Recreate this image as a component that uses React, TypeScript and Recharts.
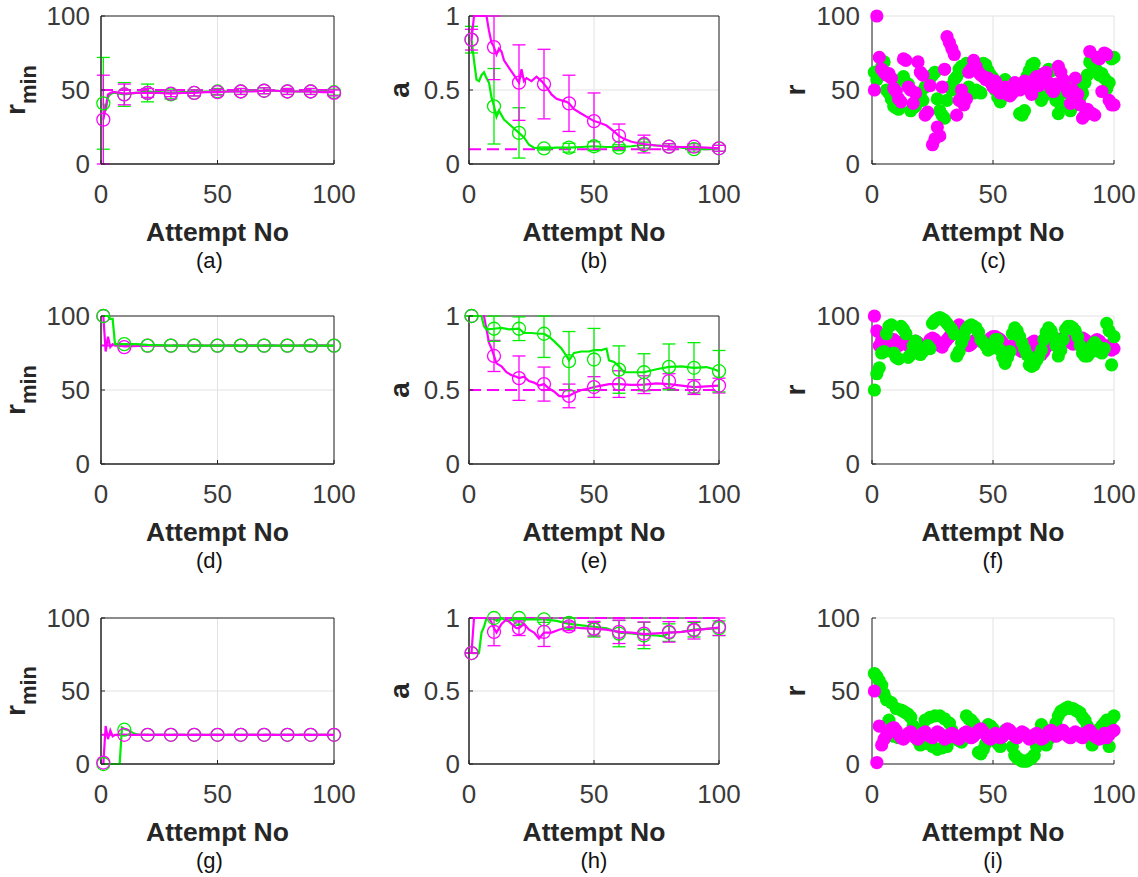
import React from 'react';
import {
  ComposedChart, Line, Scatter, XAxis, YAxis, CartesianGrid, ErrorBar, ReferenceLine, ReferenceArea,
} from 'recharts';

const GREEN = '#00ee00';
const MAGENTA = '#ff00ff';
const INK = '#262626';
const TICK = '#3a3a3a';
const FONT = "'Liberation Sans', Arial, Helvetica, sans-serif";

const xTicks = [0, 50, 100];
const rTicks = [0, 50, 100];
const aTicks = [0, 0.5, 1];
const markerX = [1, 10, 20, 30, 40, 50, 60, 70, 80, 90, 100];
const attempts = Array.from({ length: 100 }, (_, i) => i + 1);

// ---------- (a) r_min, target 50 ----------
const aGreenLineX = [1, 2, 3, 4, 5, 6, 8, 10, 15, 20, 25, 30, 35, 40, 45, 50, 55, 60, 65, 70, 75, 80, 85, 90, 95, 100];
const aGreenLineY = [41, 36, 45, 47, 48, 48, 47.5, 47, 48, 49, 48.5, 48, 48.5, 48.5, 49, 49, 49, 49, 49.5, 49.5, 49.5, 49, 49, 49, 49, 48.5];
const aMagLineX = [1, 2, 3, 4, 5, 6, 8, 10, 15, 20, 25, 30, 35, 40, 45, 50, 55, 60, 65, 70, 75, 80, 85, 90, 95, 100];
const aMagLineY = [30, 38, 47, 48, 48.5, 48.5, 48, 47.5, 48, 48, 48, 47.5, 48, 48, 48.5, 48.5, 49, 49, 49, 49.5, 49.5, 49, 49, 49, 48.5, 48.5];
const aGreenMk = [41, 47, 48, 47, 48, 49, 49, 49.5, 49, 49, 48.5];
const aGreenErr = [31, 8, 6, 3, 2, 2, 2, 2, 2, 2, 2];
const aMagMk = [30, 47, 48, 47.5, 48, 48.5, 49, 49.5, 49, 49, 48];
const aMagErr = [30, 7, 3, 2, 2, 2, 2, 2, 2, 2, 2];

// ---------- (b) a, target 0.1 ----------
const bMagLineX = [1, 2, 3, 4, 5, 6, 7, 8, 9, 10, 11, 12, 13, 14, 16, 18, 20, 21, 22, 23, 25, 27, 29, 30, 31, 33, 35, 37, 39, 40, 42, 45, 48, 50, 52, 55, 58, 60, 62, 65, 68, 70, 75, 80, 85, 90, 95, 100];
const bMagLineY = [0.84, 1, 1, 1, 1, 1, 1, 0.9, 0.82, 0.79, 0.74, 0.78, 0.76, 0.7, 0.65, 0.6, 0.55, 0.64, 0.56, 0.58, 0.56, 0.59, 0.56, 0.54, 0.52, 0.47, 0.44, 0.43, 0.42, 0.41, 0.37, 0.34, 0.31, 0.29, 0.28, 0.26, 0.22, 0.19, 0.17, 0.15, 0.14, 0.135, 0.125, 0.117, 0.115, 0.115, 0.11, 0.106];
const bGreenLineX = [1, 2, 3, 4, 5, 6, 7, 8, 9, 10, 11, 12, 13, 14, 16, 18, 20, 22, 24, 26, 28, 30, 35, 40, 45, 50, 55, 60, 65, 70, 75, 80, 85, 90, 95, 100];
const bGreenLineY = [0.84, 0.7, 0.57, 0.56, 0.6, 0.62, 0.58, 0.55, 0.45, 0.39, 0.32, 0.36, 0.33, 0.3, 0.27, 0.24, 0.21, 0.18, 0.13, 0.11, 0.105, 0.105, 0.11, 0.11, 0.115, 0.12, 0.115, 0.115, 0.12, 0.13, 0.125, 0.12, 0.11, 0.1, 0.1, 0.105];
const bMagMk = [0.84, 0.79, 0.55, 0.54, 0.41, 0.29, 0.19, 0.135, 0.117, 0.117, 0.106];
const bMagErr = [0.07, 0.22, 0.255, 0.235, 0.19, 0.19, 0.08, 0.06, 0.02, 0.02, 0.02];
const bGreenMk = [0.84, 0.39, 0.21, 0.105, 0.11, 0.12, 0.11, 0.128, 0.117, 0.1, 0.106];
const bGreenErr = [0.09, 0.255, 0.17, 0.01, 0.03, 0.03, 0.02, 0.02, 0.02, 0.02, 0.02];

// ---------- (c) r scatter ----------
const cGreen = [62, 57, 60, 66, 69, 50, 48, 44, 39, 38, 37, 57, 59, 55, 54, 36, 38, 39, 45, 48, 43, 52, 54, 58, 60, 62, 44, 36, 33, 31, 43, 52, 50, 57, 59, 64, 66, 63, 68, 52, 50, 48, 50, 49, 48, 68, 67, 63, 60, 58, 50, 45, 42, 53, 57, 55, 53, 52, 51, 52, 34, 33, 36, 59, 63, 67, 68, 61, 50, 43, 46, 54, 64, 63, 50, 43, 34, 40, 48, 53, 55, 36, 40, 46, 52, 45, 48, 55, 60, 69, 67, 66, 63, 60, 61, 58, 51, 55, 71, 72];
const cMagenta = [50, 100, 72, 64, 62, 60, 61, 58, 51, 49, 44, 42, 71, 70, 52, 50, 41, 48, 69, 62, 60, 33, 35, 53, 13, 17, 25, 19, 52, 64, 86, 82, 78, 74, 33, 43, 50, 40, 44, 62, 64, 70, 66, 62, 60, 59, 57, 58, 55, 52, 56, 50, 48, 49, 52, 47, 46, 48, 55, 53, 50, 52, 56, 54, 50, 47, 57, 59, 53, 58, 61, 62, 55, 51, 49, 54, 66, 62, 57, 52, 49, 41, 50, 58, 47, 40, 31, 33, 37, 76, 34, 33, 72, 71, 49, 75, 74, 43, 40, 40];

// ---------- (d) r_min, target 80 ----------
const dGreenLineX = [1, 2, 3, 4, 5, 6, 8, 10, 15, 20, 30, 40, 50, 60, 70, 80, 90, 100];
const dGreenLineY = [100, 100, 100, 98, 98, 81, 81, 81, 81, 80.5, 80, 80, 80, 80, 80, 80, 80, 80];
const dMagLineX = [1, 2, 3, 4, 5, 6, 8, 10, 20, 30, 40, 50, 60, 70, 80, 90, 100];
const dMagLineY = [100, 76, 86, 79, 81, 80, 80, 79.5, 80, 80, 80, 80, 80, 80, 80, 80, 80];
const dGreenMk = [100, 81, 80, 80, 80, 80, 80, 80, 80, 80, 80];
const dMagMk = [100, 79, 80, 80, 80, 80, 80, 80, 80, 80, 80];

// ---------- (e) a, target 0.5 ----------
const eGreenLineX = [1, 2, 3, 4, 5, 6, 7, 10, 13, 16, 20, 22, 25, 28, 30, 32, 34, 37, 39, 40, 42, 45, 48, 50, 53, 55, 56, 58, 60, 62, 65, 70, 75, 80, 85, 90, 95, 98, 100];
const eGreenLineY = [1, 1, 1, 1, 1, 0.93, 0.91, 0.914, 0.92, 0.91, 0.914, 0.885, 0.885, 0.88, 0.88, 0.86, 0.83, 0.78, 0.73, 0.7, 0.75, 0.76, 0.76, 0.77, 0.77, 0.78, 0.7, 0.69, 0.66, 0.62, 0.62, 0.62, 0.64, 0.656, 0.66, 0.65, 0.655, 0.64, 0.627];
const eMagLineX = [1, 2, 3, 4, 5, 6, 7, 8, 9, 10, 11, 13, 15, 17, 19, 20, 22, 24, 26, 28, 30, 32, 34, 36, 38, 40, 42, 45, 48, 50, 53, 56, 60, 65, 70, 75, 80, 85, 90, 95, 100];
const eMagLineY = [1, 1, 1, 1, 1, 1, 0.91, 0.82, 0.78, 0.73, 0.68, 0.66, 0.62, 0.6, 0.59, 0.58, 0.59, 0.56, 0.55, 0.53, 0.54, 0.51, 0.49, 0.46, 0.455, 0.46, 0.48, 0.5, 0.51, 0.52, 0.53, 0.54, 0.54, 0.535, 0.536, 0.545, 0.54, 0.53, 0.52, 0.525, 0.53];
const eGreenMk = [1, 0.914, 0.914, 0.88, 0.695, 0.706, 0.638, 0.62, 0.656, 0.65, 0.627];
const eGreenErr = [0, 0.085, 0.08, 0.16, 0.2, 0.21, 0.16, 0.125, 0.155, 0.17, 0.14];
const eMagMk = [1, 0.73, 0.58, 0.54, 0.46, 0.52, 0.54, 0.536, 0.56, 0.52, 0.53];
const eMagErr = [0, 0.105, 0.15, 0.115, 0.08, 0.07, 0.09, 0.06, 0.05, 0.05, 0.05];

// ---------- (f) r scatter ----------
const fGreen = [50, 61, 65, 75, 76, 88, 93, 94, 75, 72, 71, 93, 91, 88, 72, 74, 80, 83, 77, 74, 76, 78, 80, 78, 95, 97, 98, 99, 98, 97, 95, 93, 91, 88, 73, 76, 82, 86, 91, 93, 94, 93, 92, 89, 84, 82, 80, 77, 78, 81, 84, 84, 77, 72, 68, 72, 76, 88, 92, 90, 86, 82, 78, 74, 67, 66, 67, 70, 73, 77, 84, 89, 92, 90, 86, 80, 73, 77, 84, 91, 93, 93, 92, 90, 86, 80, 75, 73, 73, 75, 80, 82, 80, 76, 75, 78, 95, 90, 67, 86];
const fMagenta = [100, 90, 80, 84, 82, 80, 82, 83, 84, 82, 80, 82, 83, 82, 80, 79, 81, 83, 82, 80, 78, 79, 81, 84, 85, 84, 82, 80, 79, 82, 84, 86, 88, 90, 92, 94, 88, 85, 82, 80, 81, 83, 84, 84, 83, 82, 82, 83, 85, 86, 86, 85, 84, 82, 80, 79, 78, 80, 81, 79, 77, 76, 77, 78, 80, 82, 83, 80, 77, 74, 76, 79, 82, 83, 82, 81, 82, 84, 85, 84, 83, 82, 81, 82, 83, 84, 85, 84, 82, 80, 81, 83, 84, 83, 81, 80, 79, 80, 77, 78];

// ---------- (g) r_min, target 20 ----------
const gGreenLineX = [1, 2, 4, 6, 8, 9, 10, 12, 14, 16, 20, 30, 40, 50, 60, 70, 80, 90, 100];
const gGreenLineY = [0, 0, 0, 0, 0, 25, 24, 23, 21, 20, 20, 20, 20, 20, 20, 20, 20, 20, 20];
const gMagLineX = [1, 2, 3, 4, 5, 6, 8, 10, 20, 30, 40, 50, 60, 70, 80, 90, 100];
const gMagLineY = [0, 26, 17, 23, 19, 20, 20, 20, 20, 20, 20, 20, 20, 20, 20, 20, 20];
const gGreenMk = [0, 23.5, 20, 20, 20, 20, 20, 20, 20, 20, 20];
const gMagMk = [1, 20, 20, 20, 20, 20, 20, 20, 20, 20, 20];

// ---------- (h) a, target 1 ----------
const hGreenLineX = [1, 2, 3, 4, 5, 6, 7, 10, 11, 13, 15, 18, 25, 30, 35, 40, 45, 50, 55, 60, 65, 70, 75, 78, 80, 85, 90, 95, 100];
const hGreenLineY = [0.76, 0.76, 0.76, 0.76, 0.9, 0.94, 1, 1, 0.98, 1, 0.98, 0.99, 0.99, 0.99, 0.98, 0.96, 0.95, 0.94, 0.93, 0.9, 0.895, 0.885, 0.88, 0.875, 0.9, 0.905, 0.92, 0.925, 0.93];
const hMagLineX = [1, 2, 3, 5, 8, 9, 10, 11, 13, 15, 17, 19, 20, 22, 24, 26, 28, 30, 33, 36, 40, 45, 50, 55, 60, 65, 70, 75, 80, 85, 90, 95, 100];
const hMagLineY = [0.76, 1, 1, 1, 1, 0.97, 0.93, 0.9, 0.96, 0.99, 0.96, 0.93, 0.93, 0.96, 0.92, 0.9, 0.86, 0.9, 0.9, 0.92, 0.94, 0.93, 0.925, 0.92, 0.905, 0.9, 0.89, 0.895, 0.9, 0.905, 0.915, 0.925, 0.935];
const hGreenMk = [0.76, 1, 1, 0.99, 0.966, 0.92, 0.893, 0.88, 0.9, 0.92, 0.93];
const hGreenErr = [0, 0.01, 0.05, 0.02, 0.04, 0.05, 0.09, 0.09, 0.06, 0.05, 0.05];
const hMagMk = [0.76, 0.905, 0.93, 0.905, 0.943, 0.927, 0.905, 0.893, 0.905, 0.916, 0.94];
const hMagErr = [0, 0.095, 0.05, 0.1, 0.03, 0.05, 0.08, 0.08, 0.07, 0.06, 0.06];

// ---------- (i) r scatter ----------
const iGreen = [62, 60, 57, 54, 48, 44, 30, 42, 19, 38, 18, 37, 36, 35, 34, 32, 26, 19, 16, 13, 24, 30, 14, 32, 12, 33, 10, 33, 11, 31, 12, 28, 23, 19, 17, 16, 15, 18, 33, 31, 30, 28, 25, 8, 7, 10, 14, 27, 26, 24, 16, 14, 12, 19, 23, 22, 21, 12, 6, 4, 3, 2, 2, 2, 3, 4, 6, 12, 19, 27, 24, 13, 17, 19, 23, 28, 33, 36, 37, 38, 39, 38, 38, 37, 36, 35, 32, 30, 26, 20, 13, 19, 22, 24, 26, 28, 30, 12, 31, 33];
const iMagenta = [50, 1, 26, 13, 17, 20, 22, 24, 25, 23, 20, 18, 17, 19, 21, 22, 20, 18, 17, 19, 21, 22, 20, 19, 18, 20, 22, 21, 19, 17, 18, 20, 21, 20, 18, 17, 19, 21, 22, 20, 18, 19, 21, 23, 24, 22, 20, 18, 17, 19, 21, 20, 18, 19, 22, 24, 23, 21, 19, 18, 20, 22, 21, 19, 17, 18, 20, 21, 19, 17, 18, 20, 22, 23, 21, 19, 20, 22, 23, 21, 19, 18, 20, 22, 21, 19, 18, 20, 22, 23, 21, 19, 18, 17, 19, 21, 18, 20, 22, 23];

// ---------- helpers ----------
type Pt = { x: number; y: number; err?: [number, number] };
const pts = (xs: number[], ys: number[]): Pt[] => xs.map((x, i) => ({ x, y: ys[i] }));
const ptsErr = (xs: number[], ys: number[], errs: number[], top: number): Pt[] =>
  xs.map((x, i) => ({
    x,
    y: ys[i],
    err: [Math.min(errs[i], ys[i]), Math.min(errs[i], top - ys[i])] as [number, number],
  }));

const openCircle = (color: string) => (props: any) =>
  props.cx == null ? <g /> : <circle cx={props.cx} cy={props.cy} r={6.5} fill="none" stroke={color} strokeWidth={1.3} />;
const filledDot = (color: string) => (props: any) =>
  props.cx == null ? <g /> : <circle cx={props.cx} cy={props.cy} r={6.6} fill={color} stroke="none" />;

function curve(key: string, data: Pt[], color: string) {
  return (
    <Line key={key} data={data} dataKey="y" type="linear" stroke={color} strokeWidth={2.2}
      dot={false} activeDot={false} isAnimationActive={false} />
  );
}
function markers(key: string, data: Pt[], color: string, withErr: boolean) {
  return (
    <Scatter key={key} data={data} dataKey="y" shape={openCircle(color)} isAnimationActive={false}>
      {withErr ? <ErrorBar dataKey="err" direction="y" width={6.5} stroke={color} strokeWidth={1.3} /> : null}
    </Scatter>
  );
}
function dots(key: string, values: number[], color: string) {
  return (
    <Scatter key={key} data={pts(attempts, values)} dataKey="y" shape={filledDot(color)} isAnimationActive={false} />
  );
}
function target(key: string, y: number) {
  return <ReferenceLine key={key} y={y} stroke={MAGENTA} strokeWidth={2} strokeDasharray="12 6" />;
}

function YTitle(props: any) {
  const { kind, px, py } = props;
  return (
    <text x={px} y={py} transform={`rotate(-90 ${px} ${py})`} textAnchor="middle"
      fontFamily={FONT} fontWeight="bold" fontSize={28} fill={INK}>
      {kind === 'rmin' ? (
        <>
          r<tspan fontSize={22} dy={11}>min</tspan>
        </>
      ) : kind}
    </text>
  );
}

function XTitle(props: any) {
  const { px, py, caption, cdx } = props;
  return (
    <g>
      <text x={px} y={py} textAnchor="middle" fontFamily={FONT} fontWeight="bold" fontSize={26.5} fill={INK}>
        Attempt No
      </text>
      <text x={px + cdx} y={py + 27} textAnchor="middle" fontFamily={FONT} fontSize={22} fill="#111">
        {caption}
      </text>
    </g>
  );
}

type PanelProps = {
  left: number; top: number; w: number; h: number;
  yTop: number; yTicks: number[]; yTitle: string; yTitleDx: number; yTickMargin: number;
  caption: string; captionDx: number; boxed: boolean; children: React.ReactNode;
};

function Panel(p: PanelProps) {
  const ML = 100;
  const MT = 16;
  const MR = 40;
  const XH = 120;
  return (
    <div style={{ position: 'absolute', left: p.left - ML, top: p.top - MT }}>
      <ComposedChart width={p.w + ML + MR} height={p.h + MT + XH} margin={{ top: MT, right: MR, bottom: 0, left: 0 }}>
        <CartesianGrid stroke="#e2e2e2" strokeWidth={1} />
        <XAxis type="number" dataKey="x" domain={[0, 100]} ticks={xTicks} interval={0} height={XH}
          axisLine={{ stroke: INK, strokeWidth: 1 }} tickLine={{ stroke: INK }} tickSize={-4} tickMargin={25}
          tick={{ fontSize: 26, fill: TICK, fontFamily: FONT }}
          label={<XTitle px={ML + p.w / 2} py={MT + p.h + 77} caption={p.caption} cdx={p.captionDx} />} />
        <YAxis type="number" dataKey="y" domain={[0, p.yTop]} ticks={p.yTicks} interval={0} width={ML}
          axisLine={{ stroke: INK, strokeWidth: 1 }} tickLine={{ stroke: INK }} tickSize={-4} tickMargin={p.yTickMargin}
          tick={{ fontSize: 26, fill: TICK, fontFamily: FONT }}
          label={<YTitle kind={p.yTitle} px={ML + p.yTitleDx} py={MT + p.h / 2} />} />
        {p.boxed ? (
          <ReferenceArea x1={0} x2={100} y1={0} y2={p.yTop} fill="none" fillOpacity={0} stroke={INK} strokeWidth={1} />
        ) : null}
        {p.children}
      </ComposedChart>
    </div>
  );
}

const COLS = [
  { left: 101, w: 233, titleDx: -76, tickMargin: 15, capDx: -8 },
  { left: 469, w: 250, titleDx: -60, tickMargin: 13, capDx: 0 },
  { left: 872, w: 242, titleDx: -67, tickMargin: 16, capDx: 0 },
];
const ROWS = [
  { top: 16, h: 148 },
  { top: 316, h: 148 },
  { top: 618, h: 146 },
];

export default function App() {
  const cell = (r: number, c: number) => ({
    left: COLS[c].left, w: COLS[c].w, yTitleDx: COLS[c].titleDx, yTickMargin: COLS[c].tickMargin,
    captionDx: COLS[c].capDx, top: ROWS[r].top, h: ROWS[r].h,
  });
  return (
    <div style={{ position: 'absolute', left: 0, top: 0, width: 1138, height: 877, overflow: 'hidden', background: '#fff' }}>
      <Panel {...cell(0, 0)} yTop={100} yTicks={rTicks} yTitle="rmin" caption="(a)" boxed>
        {[
          target('t', 50),
          curve('gl', pts(aGreenLineX, aGreenLineY), GREEN),
          markers('gm', ptsErr(markerX, aGreenMk, aGreenErr, 100), GREEN, true),
          curve('ml', pts(aMagLineX, aMagLineY), MAGENTA),
          markers('mm', ptsErr(markerX, aMagMk, aMagErr, 100), MAGENTA, true),
        ]}
      </Panel>
      <Panel {...cell(0, 1)} yTop={1} yTicks={aTicks} yTitle="a" caption="(b)" boxed>
        {[
          target('t', 0.1),
          curve('gl', pts(bGreenLineX, bGreenLineY), GREEN),
          markers('gm', ptsErr(markerX, bGreenMk, bGreenErr, 1), GREEN, true),
          curve('ml', pts(bMagLineX, bMagLineY), MAGENTA),
          markers('mm', ptsErr(markerX, bMagMk, bMagErr, 1), MAGENTA, true),
        ]}
      </Panel>
      <Panel {...cell(0, 2)} yTop={100} yTicks={rTicks} yTitle="r" caption="(c)" boxed={false}>
        {[dots('g', cGreen, GREEN), dots('m', cMagenta, MAGENTA)]}
      </Panel>

      <Panel {...cell(1, 0)} yTop={100} yTicks={rTicks} yTitle="rmin" caption="(d)" boxed>
        {[
          target('t', 80),
          curve('ml', pts(dMagLineX, dMagLineY), MAGENTA),
          markers('mm', pts(markerX, dMagMk), MAGENTA, false),
          curve('gl', pts(dGreenLineX, dGreenLineY), GREEN),
          markers('gm', pts(markerX, dGreenMk), GREEN, false),
        ]}
      </Panel>
      <Panel {...cell(1, 1)} yTop={1} yTicks={aTicks} yTitle="a" caption="(e)" boxed>
        {[
          target('t', 0.5),
          curve('ml', pts(eMagLineX, eMagLineY), MAGENTA),
          markers('mm', ptsErr(markerX, eMagMk, eMagErr, 1), MAGENTA, true),
          curve('gl', pts(eGreenLineX, eGreenLineY), GREEN),
          markers('gm', ptsErr(markerX, eGreenMk, eGreenErr, 1), GREEN, true),
        ]}
      </Panel>
      <Panel {...cell(1, 2)} yTop={100} yTicks={rTicks} yTitle="r" caption="(f)" boxed={false}>
        {[dots('m', fMagenta, MAGENTA), dots('g', fGreen, GREEN)]}
      </Panel>

      <Panel {...cell(2, 0)} yTop={100} yTicks={rTicks} yTitle="rmin" caption="(g)" boxed>
        {[
          target('t', 20),
          curve('gl', pts(gGreenLineX, gGreenLineY), GREEN),
          markers('gm', pts(markerX, gGreenMk), GREEN, false),
          curve('ml', pts(gMagLineX, gMagLineY), MAGENTA),
          markers('mm', pts(markerX, gMagMk), MAGENTA, false),
        ]}
      </Panel>
      <Panel {...cell(2, 1)} yTop={1} yTicks={aTicks} yTitle="a" caption="(h)" boxed>
        {[
          target('t', 1),
          curve('gl', pts(hGreenLineX, hGreenLineY), GREEN),
          markers('gm', ptsErr(markerX, hGreenMk, hGreenErr, 1), GREEN, true),
          curve('ml', pts(hMagLineX, hMagLineY), MAGENTA),
          markers('mm', ptsErr(markerX, hMagMk, hMagErr, 1), MAGENTA, true),
        ]}
      </Panel>
      <Panel {...cell(2, 2)} yTop={100} yTicks={rTicks} yTitle="r" caption="(i)" boxed={false}>
        {[dots('g', iGreen, GREEN), dots('m', iMagenta, MAGENTA)]}
      </Panel>
    </div>
  );
}
